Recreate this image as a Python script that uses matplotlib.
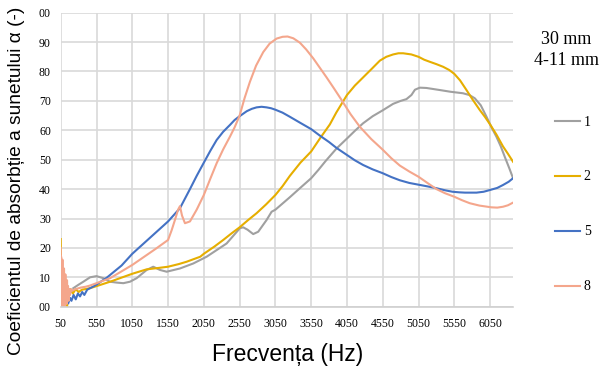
import numpy as np
import matplotlib.pyplot as plt

# sound absorption coefficient vs frequency, 30 mm sample, 4-11 mm
freq_1 = [226, 300, 366, 460, 550, 645, 738, 832, 925, 1018, 1111, 1251, 1343, 1437, 1530,
          1716, 1902, 2089, 2368, 2554, 2600, 2660, 2740, 2810, 2927, 2997, 3050, 3250, 3392,
          3550, 3650, 3750, 3904, 4050, 4160, 4276, 4410, 4550, 4695, 4800, 4881, 4951, 5000,
          5068, 5160, 5346, 5500, 5671, 5760, 5836, 5920, 6000, 6070, 6139, 6200, 6255, 6320,
          6371]
alpha_1 = [0.063, 0.075, 0.085, 0.100, 0.104, 0.097, 0.085, 0.082, 0.080, 0.085, 0.097, 0.125,
           0.136, 0.125, 0.119, 0.130, 0.147, 0.170, 0.215, 0.267, 0.270, 0.262, 0.247, 0.255,
           0.295, 0.323, 0.330, 0.372, 0.403, 0.437, 0.465, 0.495, 0.538, 0.572, 0.598, 0.624,
           0.648, 0.668, 0.690, 0.700, 0.706, 0.720, 0.738, 0.745, 0.744, 0.737, 0.731, 0.726,
           0.720, 0.709, 0.685, 0.646, 0.610, 0.578, 0.545, 0.510, 0.470, 0.437]

freq_2 = [50, 55, 60, 66, 72, 80, 90, 100, 110, 134, 160, 180, 220, 260, 300, 350, 400, 460,
          550, 740, 1050, 1250, 1390, 1550, 1700, 1810, 2000, 2050, 2200, 2321, 2440, 2550,
          2670, 2787, 2920, 3050, 3150, 3252, 3400, 3550, 3680, 3811, 3900, 3975, 4050, 4160,
          4276, 4400, 4510, 4600, 4695, 4770, 4835, 4950, 5050, 5130, 5208, 5300, 5394, 5480,
          5550, 5630, 5720, 5810, 5906, 5980, 6050, 6140, 6231, 6300, 6371]
alpha_2 = [0.230, 0.100, 0.150, 0.050, 0.090, 0.070, 0.080, 0.000, 0.030, -0.010, 0.050, 0.060,
           0.045, 0.060, 0.050, 0.058, 0.060, 0.063, 0.070, 0.085, 0.112, 0.127, 0.131, 0.136,
           0.145, 0.153, 0.170, 0.180, 0.205, 0.227, 0.250, 0.270, 0.295, 0.318, 0.348, 0.380,
           0.410, 0.445, 0.490, 0.528, 0.575, 0.620, 0.660, 0.690, 0.720, 0.752, 0.780, 0.810,
           0.837, 0.850, 0.858, 0.862, 0.862, 0.858, 0.850, 0.840, 0.833, 0.825, 0.816, 0.805,
           0.792, 0.770, 0.737, 0.703, 0.669, 0.645, 0.620, 0.585, 0.545, 0.520, 0.493]

freq_5 = [156, 180, 200, 230, 260, 290, 320, 350, 380, 420, 460, 500, 550, 700, 900, 1050,
          1300, 1550, 1716, 1856, 1950, 2050, 2140, 2229, 2320, 2414, 2480, 2550, 2650, 2720,
          2787, 2857, 2927, 2990, 3050, 3150, 3252, 3400, 3550, 3671, 3800, 3904, 4050, 4160,
          4276, 4410, 4550, 4670, 4789, 4920, 5050, 5180, 5301, 5420, 5525, 5620, 5700, 5860,
          5960, 6050, 6150, 6231, 6310, 6371]
alpha_5 = [0.012, 0.030, 0.020, 0.040, 0.025, 0.045, 0.035, 0.050, 0.040, 0.058, 0.063, 0.068,
           0.075, 0.100, 0.140, 0.180, 0.235, 0.290, 0.335, 0.400, 0.445, 0.490, 0.530, 0.567,
           0.595, 0.618, 0.635, 0.648, 0.665, 0.673, 0.678, 0.680, 0.678, 0.675, 0.670, 0.660,
           0.646, 0.625, 0.604, 0.582, 0.560, 0.540, 0.516, 0.498, 0.482, 0.467, 0.454, 0.441,
           0.430, 0.421, 0.415, 0.409, 0.403, 0.396, 0.391, 0.389, 0.388, 0.388, 0.391, 0.397,
           0.404, 0.414, 0.425, 0.437]

freq_8 = [50, 53, 56, 59, 62, 65, 68, 71, 74, 77, 80, 84, 88, 92, 96, 100, 105, 110, 115, 120,
          126, 132, 138, 145, 152, 160, 170, 180, 195, 210, 260, 330, 400, 460, 550, 740, 1050,
          1390, 1550, 1600, 1646, 1690, 1716, 1745, 1786, 1856, 1950, 2050, 2140, 2229, 2320,
          2414, 2480, 2550, 2620, 2694, 2780, 2880, 2970, 3067, 3150, 3220, 3300, 3392, 3480,
          3578, 3670, 3765, 3870, 3975, 4100, 4230, 4390, 4550, 4670, 4789, 4920, 5050, 5180,
          5301, 5420, 5550, 5660, 5766, 5900, 6069, 6150, 6231, 6300, 6371]
alpha_8 = [0.20, 0.00, 0.17, 0.01, 0.15, 0.00, 0.13, 0.02, 0.16, 0.00, 0.12, 0.01, 0.10, 0.00,
           0.13, 0.02, 0.09, 0.00, 0.11, 0.03, 0.08, 0.01, 0.09, 0.03, 0.07, 0.02, 0.06, 0.04,
           0.06, 0.055, 0.060, 0.065, 0.068, 0.072, 0.080, 0.097, 0.142, 0.199, 0.227, 0.260,
           0.295, 0.330, 0.342, 0.310, 0.284, 0.290, 0.330, 0.380, 0.435, 0.488, 0.535, 0.578,
           0.610, 0.650, 0.710, 0.765, 0.820, 0.866, 0.895, 0.912, 0.918, 0.919, 0.913, 0.898,
           0.875, 0.845, 0.813, 0.780, 0.742, 0.703, 0.655, 0.612, 0.570, 0.534, 0.505, 0.480,
           0.460, 0.442, 0.420, 0.400, 0.386, 0.374, 0.362, 0.352, 0.344, 0.338, 0.337, 0.340,
           0.345, 0.354]

series = [("1", freq_1, alpha_1, "#a0a0a0"),
          ("2", freq_2, alpha_2, "#e6ae00"),
          ("5", freq_5, alpha_5, "#4472c4"),
          ("8", freq_8, alpha_8, "#f4a68c")]

x_ticks = list(range(50, 6051, 500))
y_ticks = np.round(np.arange(0, 1.01, 0.1), 2)

fig = plt.figure(figsize=(6.06, 3.67), dpi=100)
ax = fig.add_axes([0.1002, 0.1643, 0.7463, 0.8011])

for name, f, a, c in series:
    ax.plot(f, a, color=c, lw=1.5, label=name, solid_joinstyle="round")

ax.set_xlim(50, 6370)
ax.set_ylim(0, 1)
ax.set_xticks(x_ticks)
ax.set_yticks(y_ticks)
ax.set_xticklabels([str(t) for t in x_ticks], family="Liberation Serif", fontsize=8.5)
ax.set_yticklabels([f"{t:.2f}"[-2:] for t in y_ticks], family="Liberation Serif", fontsize=8.5)
ax.tick_params(length=0)
ax.tick_params(axis="x", pad=8)
ax.tick_params(axis="y", pad=7)
ax.grid(True, color="#d9d9d9", lw=1.2)
ax.set_axisbelow(True)
for s in ["top", "right", "left"]:
    ax.spines[s].set_visible(False)
ax.spines["bottom"].set_color("#d0d0d0")
ax.spines["bottom"].set_linewidth(1.2)

fig.text(17 / 606, 0.507, "Coeficientul de absorbție a sunetului α (-)", rotation=90,
         ha="center", va="center", family="Liberation Sans", fontsize=13.8)
fig.text(288 / 606, 1 - 354 / 367, "Frecvența (Hz)", ha="center", va="center",
         family="Liberation Sans", fontsize=16.5)

fig.text(566 / 606, 1 - 50 / 367, "30 mm\n4-11 mm", ha="center", va="center",
         family="Liberation Serif", fontsize=13, linespacing=1.3)

fig.legend(loc="upper left", bbox_to_anchor=(549 / 606, 1 - 110 / 367), frameon=False,
           prop={"family": "Liberation Serif", "size": 10}, handlelength=1.8,
           handletextpad=0.3, labelspacing=3.02, borderaxespad=0)

fig.savefig("out.png", dpi=100)
